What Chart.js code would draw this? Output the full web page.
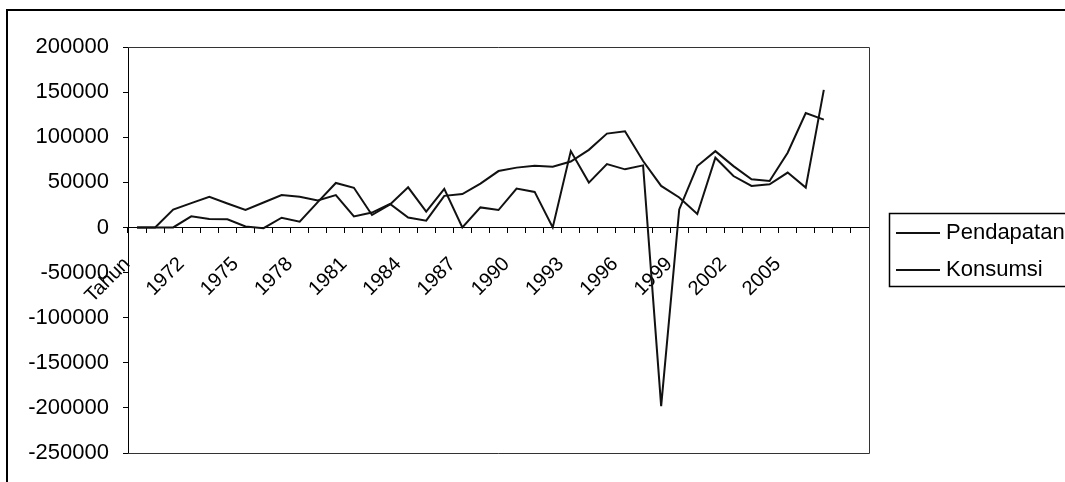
<!DOCTYPE html>
<html>
<head>
<meta charset="utf-8">
<title>Pendapatan dan Konsumsi</title>
<script src="https://cdn.jsdelivr.net/npm/chart.js@4/dist/chart.umd.min.js"></script>
<style>
  html, body { margin: 0; padding: 0; background: #fff; }
  #wrap { width: 1065px; height: 482px; position: relative; }
</style>
</head>
<body>
<div id="wrap"><canvas id="c" width="1065" height="482"></canvas></div>
<script>
// Category axis: header cell, years 1970-2007, and two empty rows
const categories = ['Tahun',
  '1970', '1971', '1972', '1973', '1974', '1975', '1976', '1977', '1978', '1979',
  '1980', '1981', '1982', '1983', '1984', '1985', '1986', '1987', '1988', '1989',
  '1990', '1991', '1992', '1993', '1994', '1995', '1996', '1997', '1998', '1999',
  '2000', '2001', '2002', '2003', '2004', '2005', '2006', '2007', '', ''];

// Series values
const pendapatan = [0, 0, 0, 12300, 9400, 9000, 1000, -800, 10800, 6400,
  28000, 49300, 44000, 13800, 25500, 44500, 17600, 42800, 0, 22200,
  19300, 43100, 39400, 0, 84600, 49700, 70300, 64400, 68800, -198000,
  20000, 68000, 84600, 68000, 53400, 51500, 82800, 126800, 119500, null, null];

const konsumsi = [0, 0, 19800, 27000, 33900, 26500, 19300, 27700, 36000, 34000,
  30000, 35800, 12200, 16500, 26000, 11000, 7500, 35000, 37000, 48500,
  62500, 66300, 68300, 67200, 73000, 86000, 104000, 106600, 73600, 46000,
  33200, 14900, 77300, 57000, 46000, 47900, 60800, 44200, 152500, null, null];

// Value axis range and tick step
const yMin = -250000;
const yMax = 200000;
const yStep = 50000;
// Every third category carries a visible label
const labelStep = 3;

const FONT = "'Liberation Sans', Arial, sans-serif";

// Page frame, plot-area outline and the boxed legend
const decorations = {
  id: 'decorations',
  beforeDraw(chart) {
    const { ctx, width, height } = chart;
    ctx.save();
    ctx.fillStyle = '#fff';
    ctx.fillRect(0, 0, width, height);
    ctx.strokeStyle = '#000';
    ctx.lineWidth = 2;
    ctx.beginPath();
    ctx.moveTo(7, height);
    ctx.lineTo(7, 10);
    ctx.lineTo(width, 10);
    ctx.stroke();
    ctx.restore();
  },
  afterDraw(chart) {
    const { ctx, chartArea: ca } = chart;
    ctx.save();
    ctx.strokeStyle = '#333';
    ctx.lineWidth = 1;
    ctx.beginPath();
    ctx.moveTo(ca.left, ca.top + 0.5);
    ctx.lineTo(ca.right + 0.5, ca.top + 0.5);
    ctx.lineTo(ca.right + 0.5, ca.bottom + 0.5);
    ctx.lineTo(ca.left, ca.bottom + 0.5);
    ctx.stroke();

    // legend
    const bx = ca.right + 20, by = 213, bw = 200, bh = 73;
    ctx.strokeStyle = '#000';
    ctx.lineWidth = 1.5;
    ctx.strokeRect(bx + 0.5, by + 0.5, bw, bh);
    ctx.font = '22px ' + FONT;
    ctx.fillStyle = '#000';
    ctx.textBaseline = 'middle';
    chart.data.datasets.forEach((ds, i) => {
      const ly = by + 20 + i * 37;
      ctx.lineWidth = 2;
      ctx.strokeStyle = ds.borderColor;
      ctx.beginPath();
      ctx.moveTo(bx + 7, ly);
      ctx.lineTo(bx + 51, ly);
      ctx.stroke();
      ctx.fillText(ds.label, bx + 57, ly);
    });
    ctx.restore();
  }
};

new Chart(document.getElementById('c'), {
  type: 'line',
  data: {
    labels: categories,
    datasets: [
      { label: 'Pendapatan', data: pendapatan, borderColor: '#111', borderWidth: 2, pointRadius: 0, tension: 0, spanGaps: false },
      { label: 'Konsumsi', data: konsumsi, borderColor: '#111', borderWidth: 2, pointRadius: 0, tension: 0, spanGaps: false }
    ]
  },
  options: {
    responsive: false,
    animation: false,
    layout: { padding: { left: 0, top: 47, right: 196, bottom: 29 } },
    plugins: { legend: { display: false }, tooltip: { enabled: false } },
    scales: {
      x: {
        type: 'category',
        offset: true,
        position: { y: 0 },
        border: { display: true, color: '#000', width: 1 },
        grid: { display: true, drawOnChartArea: false, drawTicks: true, tickLength: 5, offset: true, color: '#000', lineWidth: 1 },
        ticks: {
          autoSkip: false, maxRotation: 45, minRotation: 45, padding: 20, labelOffset: -10,
          color: '#000', font: { family: FONT, size: 20 },
          callback(value, index) { return index % labelStep === 0 ? this.getLabelForValue(value) : ''; }
        }
      },
      y: {
        min: yMin, max: yMax,
        border: { display: true, color: '#000', width: 1 },
        grid: { display: true, drawOnChartArea: false, drawTicks: true, tickLength: 5, color: '#000' },
        ticks: { stepSize: yStep, padding: 14, color: '#000', font: { family: FONT, size: 22 }, callback: v => String(v) },
        afterFit(scale) { scale.width = 128; }
      }
    }
  },
  plugins: [decorations]
});
</script>
</body>
</html>
